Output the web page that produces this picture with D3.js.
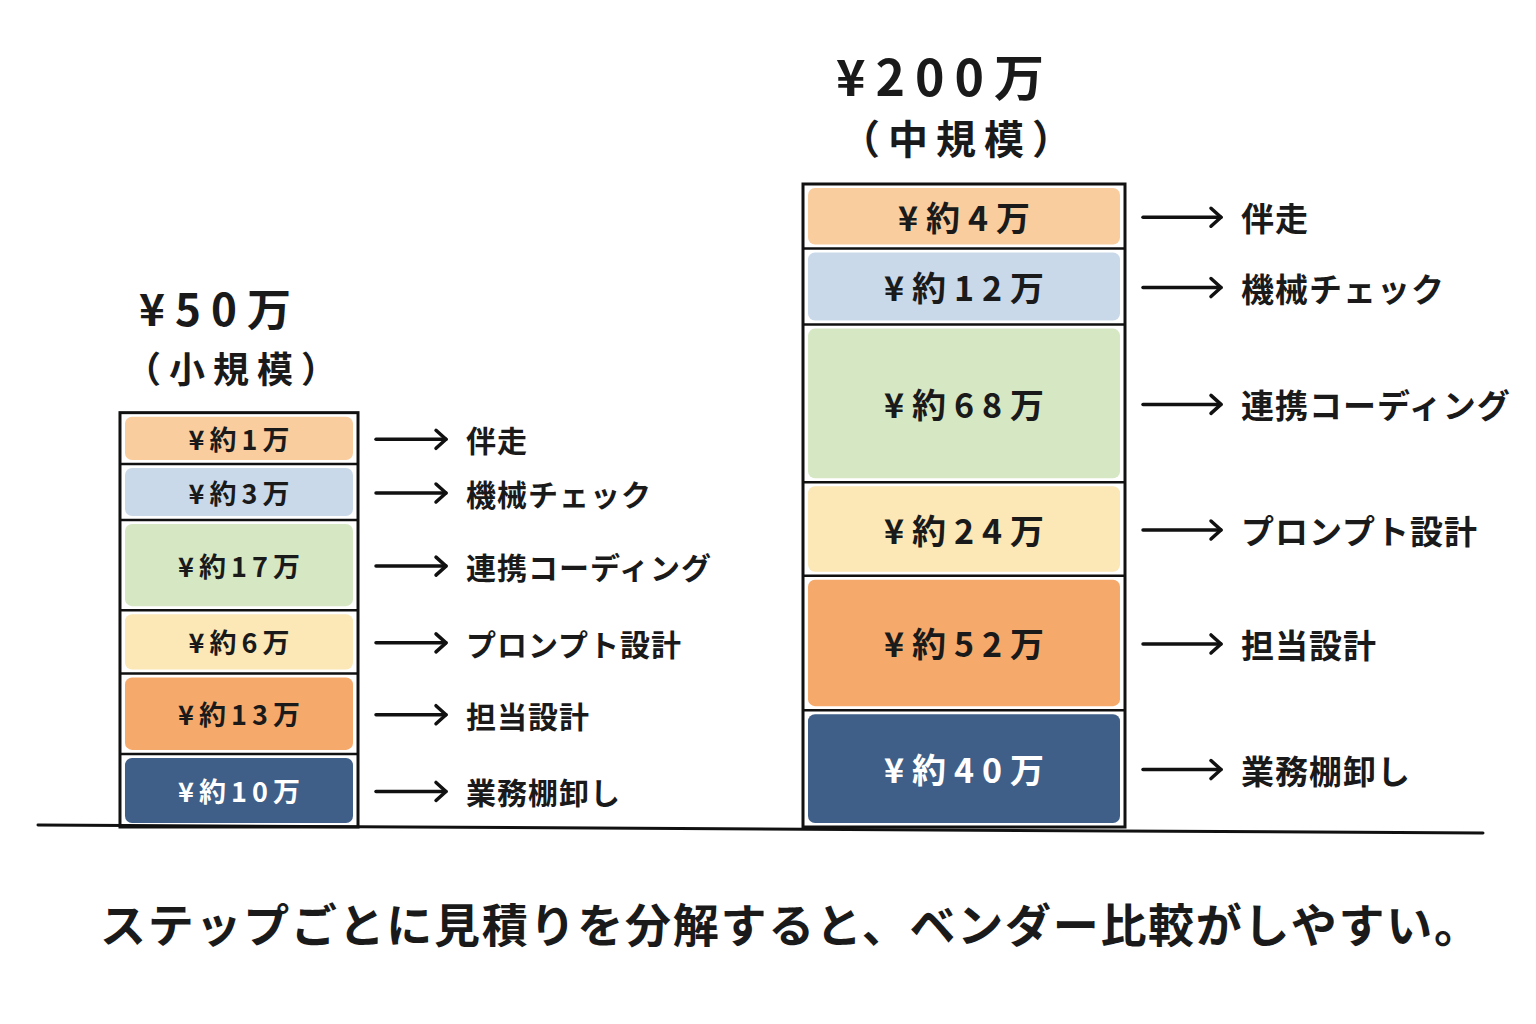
<!DOCTYPE html>
<html><head><meta charset="utf-8">
<script src="https://cdn.jsdelivr.net/npm/d3@7"></script>
<style>
html,body{margin:0;padding:0;background:#fff;}
svg{display:block;}
text{font-family:"Noto Sans CJK JP","Noto Sans",sans-serif;font-weight:700;fill:#1a1a1a;}
</style></head>
<body>
<svg id="c" width="1536" height="1024"></svg>
<script>
// ---- data ----
const categories = ["業務棚卸し","担当設計","プロンプト設計","連携コーディング","機械チェック","伴走"]; // bottom -> top
const smallValues = [10,13,6,17,3,1];   // 万円 (小規模)
const midValues   = [40,52,24,68,12,4]; // 万円 (中規模)
const tiers  = ["小規模","中規模"];
const totals = [50,200];
const caption = "ステップごとに見積りを分解すると、ベンダー比較がしやすい。";

// ---- styles ----
const fills = ["#3f5f88","#f5aa6c","#fbe8b6","#d6e7c4","#c9d9ea","#f9cd9e"];
const textFills = ["#ffffff","#1a1a1a","#1a1a1a","#1a1a1a","#1a1a1a","#1a1a1a"];

const svg = d3.select("#c");
const baseY = 827;

// scales
const xCenter = d3.scalePoint().domain(tiers).range([239, 964]);
const heightScale = d3.scalePow().exponent(0.317).domain([0, 200]).range([0, 643]);
const widthScale  = d3.scalePow().exponent(0.218).domain([0, 200]).range([0, 322]);
const segFont   = d3.scaleLinear().domain([50, 200]).range([27, 34]);
const segSpace  = d3.scaleLinear().domain([50, 200]).range([5, 8]);
const labFont   = d3.scaleLinear().domain([50, 200]).range([30, 33]);
const titleFont = d3.scaleLinear().domain([50, 200]).range([44, 50]);
const subFont   = d3.scaleLinear().domain([50, 200]).range([36, 40]);

// baseline
svg.append("line").attr("x1", 38).attr("y1", 825).attr("x2", 1483).attr("y2", 833)
  .attr("stroke", "#111").attr("stroke-width", 3).attr("stroke-linecap", "round");

const series = [smallValues, midValues];

series.forEach((vals, bi) => {
  const tier = tiers[bi];
  const total = totals[bi];
  const H = heightScale(total);
  const W = widthScale(total);
  const cx = xCenter(tier);
  const x0 = cx - W / 2;
  const k = 2.85 * Math.sqrt(total); // visual padding so small steps stay legible
  const weights = vals.map(v => v + k);
  const cum = d3.cumsum(weights);
  const y = d3.scaleLinear().domain([0, d3.sum(weights)]).range([baseY, baseY - H]);
  const segs = vals.map((v, i) => ({
    v, cat: categories[i], i,
    y0: y(i === 0 ? 0 : cum[i - 1]), y1: y(cum[i])
  }));

  const g = svg.append("g");
  // coloured fills
  g.selectAll("rect.seg").data(segs).join("rect")
    .attr("x", x0 + 5).attr("width", W - 10)
    .attr("y", d => d.y1 + 4).attr("height", d => d.y0 - d.y1 - 8)
    .attr("rx", 7).attr("fill", d => fills[d.i]);
  // dividers
  g.selectAll("line.div").data(segs.slice(1)).join("line")
    .attr("x1", x0).attr("x2", x0 + W)
    .attr("y1", d => d.y0).attr("y2", d => d.y0)
    .attr("stroke", "#111").attr("stroke-width", 2.5);
  // outline
  g.append("rect").attr("x", x0).attr("y", baseY - H).attr("width", W).attr("height", H)
    .attr("fill", "none").attr("stroke", "#111").attr("stroke-width", 3);

  // value labels
  g.selectAll("text.val").data(segs).join("text")
    .attr("x", cx + segSpace(total) / 2).attr("y", d => (d.y0 + d.y1) / 2)
    .attr("text-anchor", "middle").attr("dominant-baseline", "central")
    .attr("font-size", segFont(total)).attr("letter-spacing", segSpace(total))
    .style("fill", d => textFills[d.i])
    .text(d => "¥約" + d.v + "万");

  // arrows + category labels
  const ax0 = x0 + W + 18, ax1 = ax0 + (bi === 0 ? 70 : 78);
  const ag = g.selectAll("g.arr").data(segs).join("g")
    .attr("transform", d => `translate(0,${(d.y0 + d.y1) / 2 + 1})`);
  ag.append("line").attr("x1", ax0).attr("x2", ax1).attr("y1", 0).attr("y2", 0)
    .attr("stroke", "#111").attr("stroke-width", 3.5).attr("stroke-linecap", "round");
  ag.append("path").attr("d", `M${ax1 - 10},-9 L${ax1},0 L${ax1 - 10},9`)
    .attr("fill", "none").attr("stroke", "#111").attr("stroke-width", 3.5)
    .attr("stroke-linecap", "round").attr("stroke-linejoin", "round");
  ag.append("text").attr("x", ax1 + 20).attr("y", 0)
    .attr("dominant-baseline", "central")
    .attr("font-size", labFont(total)).attr("letter-spacing", 1)
    .text(d => d.cat);

  // titles
  const top = baseY - H;
  svg.append("text").attr("x", cx - 24 + 5).attr("y", top - (bi === 0 ? 106 : 110))
    .attr("text-anchor", "middle").attr("dominant-baseline", "central")
    .attr("font-size", titleFont(total)).attr("letter-spacing", 10)
    .text("¥" + total + "万");
  svg.append("text").attr("x", cx - 8 + 4).attr("y", top - (bi === 0 ? 46 : 47))
    .attr("text-anchor", "middle").attr("dominant-baseline", "central")
    .attr("font-size", subFont(total)).attr("letter-spacing", 8)
    .text("（" + tier + "）");
});

// caption
svg.append("text").attr("x", 100).attr("y", 922)
  .attr("dominant-baseline", "central")
  .attr("font-size", 46).attr("textLength", 1380).attr("lengthAdjust", "spacing")
  .text(caption);
</script>
</body></html>
